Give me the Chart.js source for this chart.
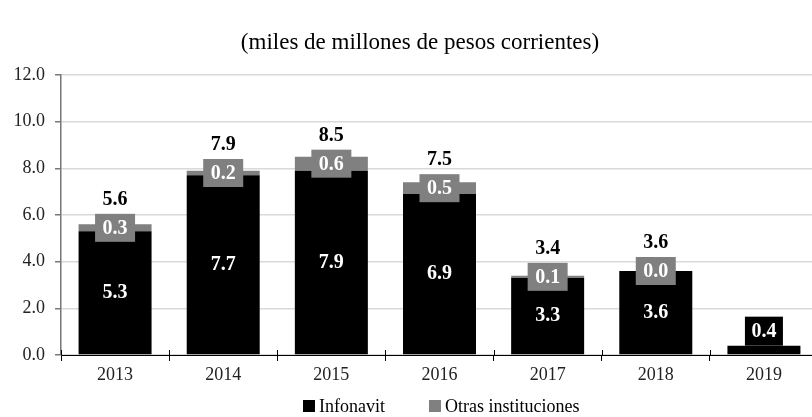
<!DOCTYPE html>
<html>
<head>
<meta charset="utf-8">
<script src="https://cdn.jsdelivr.net/npm/chart.js@4.4.1/dist/chart.umd.min.js"></script>
<style>
    html, body { margin: 0; padding: 0; background: #fff; overflow: hidden; }
    #wrap { position: absolute; left: 0; top: 0; width: 830px; height: 417px; }
</style>
</head>
<body>
<div id="wrap"><canvas id="barChart"></canvas></div>
<script>
const years = ['2013', '2014', '2015', '2016', '2017', '2018', '2019'];
const infonavit = [5.3, 7.7, 7.9, 6.9, 3.3, 3.6, 0.4];
const otras = [0.3, 0.2, 0.6, 0.5, 0.1, 0.0, 0.0];
const totals = [5.6, 7.9, 8.5, 7.5, 3.4, 3.6, null];
const yTicks = [0, 2, 4, 6, 8, 10, 12];
const titleText = '(miles de millones de pesos corrientes)';

const serif = "'Liberation Serif', 'DejaVu Serif', serif";

// title, labels inside / above the bars, and the small legend at the bottom
const labelPlugin = {
    id: 'barLabels',
    afterDatasetsDraw(chart) {
        const ctx = chart.ctx;
        const metaA = chart.getDatasetMeta(0);
        const metaB = chart.getDatasetMeta(1);
        ctx.save();
        ctx.textAlign = 'center';
        ctx.textBaseline = 'middle';

        ctx.fillStyle = '#000';
        ctx.font = '23px ' + serif;
        ctx.fillText(titleText, 420, 43);

        ctx.font = 'bold 20px ' + serif;
        metaA.data.forEach((bar, i) => {
            const v = infonavit[i];
            if (v >= 1) {
                ctx.fillStyle = '#fff';
                ctx.fillText(v.toFixed(1), bar.x, (bar.y + bar.base) / 2);
            } else {
                ctx.fillStyle = '#000';
                ctx.fillRect(bar.x - 19, bar.y - 29, 38, 29);
                ctx.fillStyle = '#fff';
                ctx.fillText(v.toFixed(1), bar.x, bar.y - 14);
            }
        });

        metaB.data.forEach((bar, i) => {
            if (totals[i] === null) return;
            const cy = (bar.y + bar.base) / 2;
            ctx.fillStyle = '#808080';
            ctx.fillRect(bar.x - 20, cy - 14, 40, 28);
            ctx.fillStyle = '#fff';
            ctx.fillText(otras[i].toFixed(1), bar.x, cy + 1);
            ctx.fillStyle = '#000';
            ctx.fillText(totals[i].toFixed(1), bar.x, cy - 28);
        });

        // upper half of the x axis tick marks
        const x = chart.scales.x;
        const step = x.getPixelForValue(1) - x.getPixelForValue(0);
        ctx.strokeStyle = '#000';
        ctx.lineWidth = 1;
        for (let i = 0; i <= years.length; i++) {
            const px = Math.round(x.getPixelForValue(0) - step / 2 + i * step) + 0.5;
            ctx.beginPath();
            ctx.moveTo(px, x.top - 5);
            ctx.lineTo(px, x.top);
            ctx.stroke();
        }

        // legend
        const items = [['Infonavit', '#000'], ['Otras instituciones', '#808080']];
        ctx.font = '18px ' + serif;
        ctx.textAlign = 'left';
        const widths = items.map(it => 12 + 4 + ctx.measureText(it[0]).width);
        const gap = 44;
        let lx = 303;
        const ly = 406;
        items.forEach((it, k) => {
            ctx.fillStyle = it[1];
            ctx.fillRect(lx, ly - 6, 12, 12);
            ctx.fillStyle = '#000';
            ctx.fillText(it[0], lx + 16, ly + 1);
            lx += widths[k] + gap;
        });
        ctx.restore();
    }
};

const ctxBar = document.getElementById('barChart').getContext('2d');

let barChart = new Chart(ctxBar, {
    type: 'bar',
    data: {
        labels: years,
        datasets: [{
            label: 'Infonavit',
            data: infonavit,
            backgroundColor: '#000',
            categoryPercentage: 1,
            barPercentage: 0.675
        }, {
            label: 'Otras instituciones',
            data: otras,
            backgroundColor: '#808080',
            categoryPercentage: 1,
            barPercentage: 0.675
        }]
    },
    options: {
        responsive: true,
        maintainAspectRatio: false,
        animation: false,
        layout: { padding: { left: 0, right: 12, top: 75, bottom: 0 } },
        plugins: {
            legend: { display: false },
            tooltip: { enabled: false },
            title: { display: false }
        },
        scales: {
            x: {
                stacked: true,
                afterFit: (scale) => { scale.height = 62; },
                grid: {
                    display: true,
                    drawOnChartArea: false,
                    offset: true,
                    tickLength: 6,
                    color: '#000'
                },
                border: { color: '#000', width: 1 },
                ticks: {
                    color: '#222',
                    padding: 3,
                    font: { family: serif, size: 18 }
                }
            },
            y: {
                stacked: true,
                min: 0,
                max: 12,
                afterFit: (scale) => { scale.width = 61; },
                afterBuildTicks: (scale) => { scale.ticks = yTicks.map(v => ({ value: v })); },
                grid: {
                    color: '#d9d9d9',
                    lineWidth: 1.5,
                    tickColor: '#777',
                    tickLength: 6
                },
                border: { color: '#777', width: 1.5 },
                ticks: {
                    color: '#222',
                    padding: 10,
                    font: { family: serif, size: 18 },
                    callback: (v) => v.toFixed(1)
                }
            }
        }
    },
    plugins: [labelPlugin]
});
</script>
</body>
</html>
